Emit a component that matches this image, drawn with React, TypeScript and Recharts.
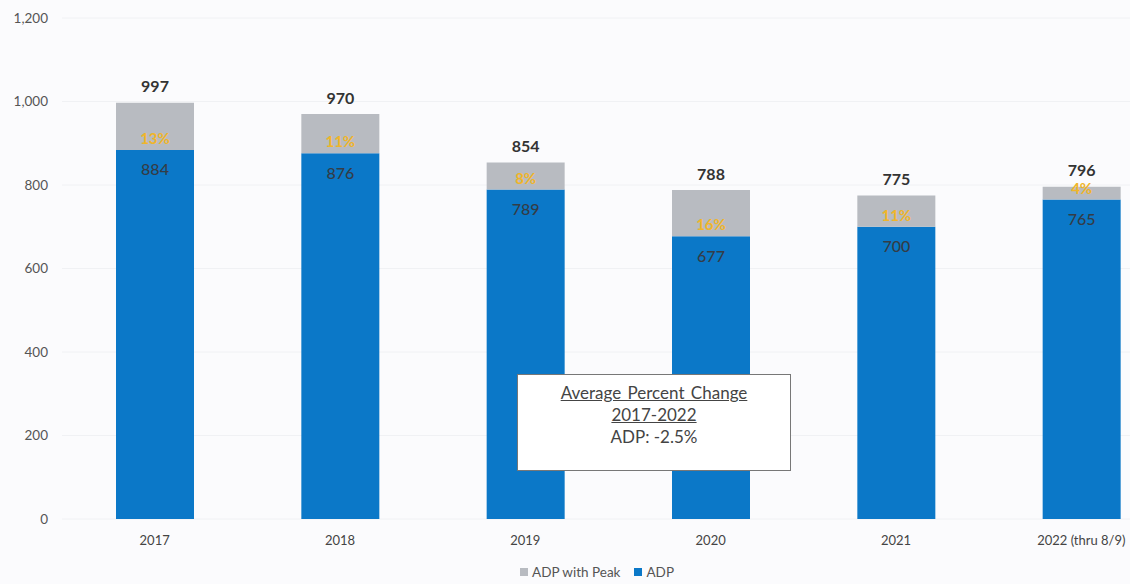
import { BarChart, Bar, XAxis, YAxis, CartesianGrid, LabelList } from 'recharts'

const years = ['2017', '2018', '2019', '2020', '2021', '2022 (thru 8/9)']
const adp = [884, 876, 789, 677, 700, 765]
const adpWithPeak = [997, 970, 854, 788, 775, 796]
const peakPct = ['13%', '11%', '8%', '16%', '11%', '4%']
const yTicks = [0, 200, 400, 600, 800, 1000, 1200]

const BLUE = '#0b78c8'
const GRAY = '#b8bbc1'
const PCT = '#f0b52a'
const FONT = 'Lato, "Open Sans", sans-serif'

const data = years.map((year, i) => ({
    year,
    adp: adp[i],
    peak: adpWithPeak[i] - adp[i],
    total: adpWithPeak[i],
    pct: peakPct[i],
}))

const PeakLabel = (props: any) => {
    const { x, y, width, height, index } = props
    const cx = x + width / 2
    return (
        <g>
            <text x={cx} y={y - 17} textAnchor="middle" dominantBaseline="central"
                fontSize={16} fontWeight={700} fill="#333" fontFamily={FONT}>
                {data[index].total}
            </text>
            <text x={cx} y={y + height - 12} textAnchor="middle" dominantBaseline="central"
                fontSize={15} fontWeight={700} fill={PCT} fontFamily={FONT}>
                {data[index].pct}
            </text>
        </g>
    )
}

const AdpLabel = (props: any) => {
    const { x, y, width, value } = props
    return (
        <text x={x + width / 2} y={y + 19} textAnchor="middle" dominantBaseline="central"
            fontSize={16} fontWeight={500} fill="#343c46" fontFamily={FONT}>
            {value}
        </text>
    )
}

export default function App() {
    return (
        <div style={{ position: 'absolute', left: 0, top: 0, width: 1130, height: 584, overflow: 'hidden', background: '#fbfbfd', fontFamily: FONT }}>
            <BarChart width={1182} height={584} data={data} margin={{ top: 18, right: 8, left: 0, bottom: 35 }}>
                <CartesianGrid vertical={false} stroke="#f0f1f4" />
                <XAxis dataKey="year" axisLine={false} tickLine={false} tickSize={0} tickMargin={17} height={30}
                    tick={{ fontSize: 13, fill: '#444', fontFamily: FONT }} interval={0} />
                <YAxis domain={[0, 1200]} ticks={yTicks} axisLine={false} tickLine={false} tickSize={0} tickMargin={14} width={62}
                    tick={{ fontSize: 13.5, fill: '#555', fontFamily: FONT }}
                    tickFormatter={(v) => v.toLocaleString('en-US')} />
                <Bar dataKey="adp" stackId="a" fill={BLUE} barSize={78} isAnimationActive={false}>
                    <LabelList dataKey="adp" content={AdpLabel} />
                </Bar>
                <Bar dataKey="peak" stackId="a" fill={GRAY} barSize={78} isAnimationActive={false}>
                    <LabelList dataKey="peak" content={PeakLabel} />
                </Bar>
            </BarChart>

            <div style={{ position: 'absolute', left: 517, top: 374, width: 274, height: 97, background: '#fff', border: '1px solid #777', textAlign: 'center', color: '#444', fontSize: 17, lineHeight: '22px', paddingTop: 7, boxSizing: 'border-box' }}>
                <div style={{ textDecoration: 'underline', wordSpacing: 2 }}>Average Percent Change</div>
                <div style={{ textDecoration: 'underline' }}>2017-2022</div>
                <div>ADP: -2.5%</div>
            </div>

            <div style={{ position: 'absolute', left: 0, width: 1130, top: 564, display: 'flex', justifyContent: 'center', alignItems: 'center', fontSize: 13.5, color: '#555', paddingLeft: 64, boxSizing: 'border-box' }}>
                <span style={{ width: 8, height: 8, background: GRAY, display: 'inline-block', marginRight: 4 }} />
                <span style={{ marginRight: 14 }}>ADP with Peak</span>
                <span style={{ width: 8, height: 8, background: BLUE, display: 'inline-block', marginRight: 4 }} />
                <span>ADP</span>
            </div>
        </div>
    )
}
